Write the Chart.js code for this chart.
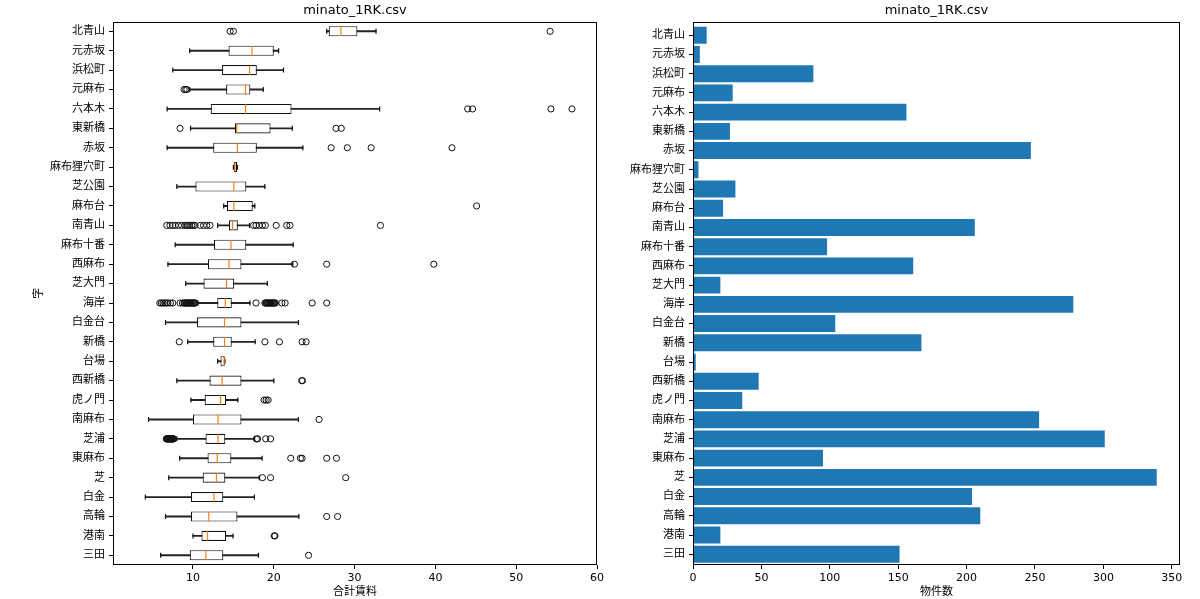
<!DOCTYPE html>
<html><head><meta charset="utf-8">
<script src="https://cdn.jsdelivr.net/npm/chart.js@4.4.0/dist/chart.umd.min.js"></script>
<style>
html,body{margin:0;padding:0;background:#fff;overflow:hidden;}
#wrap{position:relative;width:1200px;height:599px;background:#fff;}
.box{position:absolute;top:0;}
</style></head><body>
<div id="wrap">
<div class="box" style="left:0;width:625px;height:599px;"><canvas id="c1" width="625" height="599"></canvas></div>
<div class="box" style="left:600px;width:600px;height:599px;"><canvas id="c2" width="600" height="599"></canvas></div>
</div>
<script>
const districts = ['北青山','元赤坂','浜松町','元麻布','六本木','東新橋','赤坂','麻布狸穴町','芝公園','麻布台','南青山','麻布十番','西麻布','芝大門','海岸','白金台','新橋','台場','西新橋','虎ノ門','南麻布','芝浦','東麻布','芝','白金','高輪','港南','三田'];
const whiskerLow  = [26.55, 9.6, 7.5, 9.6, 6.8, 9.7, 6.8, 15.0, 8.0, 13.8, 13.05, 7.8, 6.9, 9.1, 10.6, 6.6, 9.35, 13.05, 8.0, 9.75, 4.5, 8.0, 8.35, 7.0, 4.1, 6.6, 10.0, 6.0];
const quartile1   = [26.8, 14.4, 13.6, 14.1, 12.2, 15.2, 12.5, 15.05, 10.3, 14.2, 14.45, 12.6, 11.85, 11.3, 13.0, 10.5, 12.5, 13.4, 12.05, 11.45, 10.0, 11.55, 11.8, 11.2, 9.75, 9.75, 11.05, 9.6];
const median      = [28.3, 17.3, 17.0, 16.5, 16.5, 15.4, 15.5, 15.2, 15.05, 15.05, 14.9, 14.7, 14.45, 14.15, 14.0, 13.9, 13.9, 13.85, 13.6, 13.4, 13.1, 13.1, 13.0, 12.9, 12.6, 11.95, 11.8, 11.6];
const quartile3   = [30.35, 20.0, 17.9, 17.1, 22.2, 19.6, 17.9, 15.45, 16.6, 17.4, 15.55, 16.6, 16.0, 15.1, 14.8, 16.0, 14.8, 13.95, 16.0, 14.1, 16.0, 14.0, 14.75, 14.0, 13.75, 15.5, 14.1, 13.75];
const whiskerHigh = [32.65, 20.6, 21.2, 18.7, 33.1, 22.3, 23.6, 15.5, 18.9, 17.65, 17.0, 22.4, 22.35, 19.2, 17.05, 23.05, 17.7, 13.95, 20.0, 15.55, 23.05, 17.6, 18.55, 18.2, 17.6, 23.1, 14.95, 18.1];
const outliers = [
  [14.6, 15.0, 54.2],
  [],
  [],
  [8.9, 9.1, 9.25],
  [44.0, 44.6, 54.3, 56.9],
  [8.4, 27.7, 28.35],
  [27.1, 29.1, 32.05, 42.05],
  [],
  [],
  [45.1],
  [6.75, 7.15, 7.5, 7.8, 8.2, 8.6, 9.0, 9.2, 9.4, 9.6, 9.85, 10.05, 10.25, 10.9, 11.3, 11.7, 12.1, 17.5, 17.8, 18.2, 18.6, 18.95, 20.3, 21.6, 22.0, 33.2],
  [],
  [22.55, 26.55, 39.8],
  [],
  [5.9, 6.1, 6.3, 6.5, 6.7, 6.9, 7.2, 7.5, 8.4, 8.7, 8.9, 9.0, 9.1, 9.2, 9.3, 9.4, 9.5, 9.6, 9.7, 9.8, 9.9, 10.0, 10.1, 10.2, 10.3, 17.8, 18.9, 19.0, 19.1, 19.2, 19.3, 19.4, 19.5, 19.6, 19.7, 19.8, 19.9, 20.0, 20.1, 20.2, 21.0, 21.4, 24.75, 26.55],
  [],
  [8.3, 18.9, 20.7, 23.5, 24.0],
  [],
  [23.45, 23.55],
  [18.8, 19.05, 19.3],
  [25.6],
  [6.7, 6.75, 6.8, 6.85, 6.9, 6.95, 7.0, 7.05, 7.1, 7.15, 7.2, 7.25, 7.3, 7.35, 7.4, 7.45, 7.5, 7.55, 7.6, 17.85, 18.0, 19.0, 19.6],
  [22.1, 23.3, 23.5, 26.55, 27.75],
  [18.6, 19.6, 28.9],
  [],
  [26.55, 27.9],
  [20.05, 20.15],
  [24.3]
];
const listingCounts = [10, 5, 88, 29, 156, 27, 247, 4, 31, 22, 206, 98, 161, 20, 278, 104, 167, 2, 48, 36, 253, 301, 95, 339, 204, 210, 20, 151];
const rentTicks = [10, 20, 30, 40, 50, 60];
const countTicks = [0, 50, 100, 150, 200, 250, 300, 350];
const chartTitle = 'minato_1RK.csv';
const rentAxisTitle = '合計賃料';
const districtAxisTitle = '字';
const countAxisTitle = '物件数';

Chart.defaults.font.family = "'DejaVu Sans', 'Noto Sans CJK JP', sans-serif";
Chart.defaults.font.size = 11;
Chart.defaults.color = '#000';
Chart.defaults.animation = false;

const framePlugin = {
  id: 'frame',
  afterDraw(chart) {
    const {ctx, chartArea: a} = chart;
    ctx.save();
    ctx.strokeStyle = '#000';
    ctx.lineWidth = 1;
    ctx.strokeRect(Math.round(a.left) + 0.5, Math.round(a.top) + 0.5, Math.round(a.right - a.left) - 1, Math.round(a.bottom - a.top) - 1);
    ctx.restore();
  }
};

const tickGrid = {drawOnChartArea: false, drawTicks: true, tickLength: 4, tickColor: '#000', offset: false};

new Chart(document.getElementById('c1'), {
  type: 'bar',
  data: {
    datasets: [
      {type: 'bar', label: 'whisker', data: districts.map((d, i) => ({y: i + 1, x: [whiskerLow[i], whiskerHigh[i]]})),
       backgroundColor: '#222', barThickness: 1.2, grouped: false, order: 5},
      {type: 'bar', label: 'box', data: districts.map((d, i) => ({y: i + 1, x: [quartile1[i], quartile3[i]]})),
       backgroundColor: '#fff', borderColor: '#111', borderWidth: 1.1, borderSkipped: false,
       barPercentage: 0.52, categoryPercentage: 1, grouped: false, order: 4},
      {type: 'scatter', label: 'caps', data: districts.flatMap((d, i) => [{x: whiskerLow[i], y: i + 1}, {x: whiskerHigh[i], y: i + 1}]),
       pointStyle: 'line', pointRotation: 90, pointRadius: 2.5, pointBorderColor: '#111', pointBorderWidth: 1.2, order: 3},
      {type: 'scatter', label: 'outliers', data: outliers.flatMap((arr, i) => arr.map(v => ({x: v, y: i + 1}))),
       pointStyle: 'circle', pointRadius: 3.1, pointBorderColor: '#111', pointBackgroundColor: 'rgba(0,0,0,0)', pointBorderWidth: 1, order: 2},
      {type: 'scatter', label: 'median', data: districts.map((d, i) => ({x: median[i], y: i + 1})),
       pointStyle: 'line', pointRotation: 90, pointRadius: 4.7, pointBorderColor: '#ff7f0e', pointBorderWidth: 1.2, order: 1}
    ]
  },
  options: {
    responsive: false,
    indexAxis: 'y',
    events: [],
    layout: {padding: {left: 0, right: 28, top: 0, bottom: 0}},
    plugins: {
      legend: {display: false},
      tooltip: {enabled: false},
      title: {display: true, text: chartTitle, fullSize: false, font: {size: 13, weight: 'normal'}, padding: {top: 3, bottom: 3}, color: '#000'}
    },
    scales: {
      x: {
        type: 'linear', min: 0.1, max: 60, offset: false,
        grid: tickGrid, border: {display: false},
        afterBuildTicks: s => { s.ticks = rentTicks.map(v => ({value: v})); },
        afterFit: s => { s.height = 34; },
        ticks: {padding: 3, maxRotation: 0, autoSkip: false, callback: v => String(v)},
        title: {display: true, text: rentAxisTitle, padding: {top: 0, bottom: 0}, font: {size: 11}}
      },
      y: {
        type: 'linear', reverse: true, min: 0.5, max: 28.5, offset: false,
        grid: tickGrid, border: {display: false},
        afterBuildTicks: s => { s.ticks = districts.map((d, i) => ({value: i + 1})); },
        afterFit: s => { s.width = 113; },
        ticks: {padding: 4, autoSkip: false, callback: v => districts[Math.round(v) - 1]},
        title: {display: true, text: districtAxisTitle, padding: {top: 33, bottom: 0}, font: {size: 11}}
      }
    }
  },
  plugins: [framePlugin]
});

new Chart(document.getElementById('c2'), {
  type: 'bar',
  data: {
    datasets: [
      {label: '物件数', data: listingCounts.map((c, i) => ({y: i, x: c})),
       backgroundColor: '#1f77b4', borderWidth: 0,
       barPercentage: 0.88, categoryPercentage: 1, grouped: false}
    ]
  },
  options: {
    responsive: false,
    indexAxis: 'y',
    events: [],
    layout: {padding: {left: 0, right: 20, top: 0, bottom: 0}},
    plugins: {
      legend: {display: false},
      tooltip: {enabled: false},
      title: {display: true, text: chartTitle, fullSize: false, font: {size: 13, weight: 'normal'}, padding: {top: 3, bottom: 3}, color: '#000'}
    },
    scales: {
      x: {
        type: 'linear', min: 0, max: 356, offset: false,
        grid: tickGrid, border: {display: false},
        afterBuildTicks: s => { s.ticks = countTicks.map(v => ({value: v})); },
        afterFit: s => { s.height = 34; },
        ticks: {padding: 3, maxRotation: 0, autoSkip: false, callback: v => String(v)},
        title: {display: true, text: countAxisTitle, padding: {top: 0, bottom: 0}, font: {size: 11}}
      },
      y: {
        type: 'linear', reverse: true, min: -0.71, max: 27.56, offset: false,
        grid: tickGrid, border: {display: false},
        afterBuildTicks: s => { s.ticks = districts.map((d, i) => ({value: i})); },
        afterFit: s => { s.width = 93; },
        ticks: {padding: 4, autoSkip: false, callback: v => districts[Math.round(v)]}
      }
    }
  },
  plugins: [framePlugin]
});
</script>
</body></html>
